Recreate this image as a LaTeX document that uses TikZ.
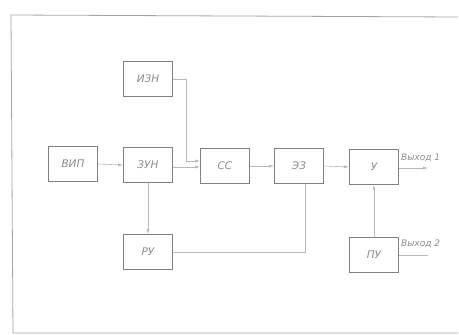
\documentclass[tikz,border=0pt]{standalone}
\usepackage{fontspec}
\setmainfont{DejaVu Sans}
\usetikzlibrary{arrows.meta}
\begin{document}
\begin{tikzpicture}[x=1pt,y=-1pt,
  blk/.style={draw=black!50,line width=0.8pt,minimum width=49pt,minimum height=35pt,inner sep=0pt,font=\itshape\fontsize{10.5}{12}\selectfont,text=black!45},
  con/.style={draw=black!28,line width=0.6pt},
  arr/.style={con,-{Latex[length=5pt,width=3pt]}},
  lbl/.style={font=\itshape\fontsize{9}{10}\selectfont,text=black!45,inner sep=0pt}]
\useasboundingbox (0,0) rectangle (459,335);
\fill[white] (0,0) rectangle (459,335);
% frame
\coordinate (f1) at (11,15);
\coordinate (f2) at (458,17);
\coordinate (f3) at (13,333);
\coordinate (f4) at (458,333);
\draw[black!35,line width=0.8pt] (f2) -- (f1) -- (f3) -- (f4);
% blocks
\node[blk] (izn) at (148,79) {ИЗН};
\node[blk] (vip) at (73,164) {ВИП};
\node[blk] (zun) at (148,165) {ЗУН};
\node[blk] (ss)  at (225,166) {СС};
\node[blk] (ez)  at (299,166) {ЭЗ};
\node[blk] (u)   at (374,167) {У};
\node[blk] (ru)  at (148,252) {РУ};
\node[blk] (pu)  at (374,255) {ПУ};
% auxiliary points
\coordinate (c1) at (186,79);
\coordinate (c2) at (186,161);
\coordinate (c3) at (305,252);
\coordinate (o1) at (428,168);
\coordinate (o2) at (428,255);
% connectors
\draw[arr] (vip.east) -- (zun.west);
\draw[arr] (zun.east |- 0,167) -- (ss.west |- 0,167);
\draw[arr] (izn.east) -- (c1) -- (c2) -- (ss.west |- c2);
\draw[arr] (ss.east) -- (ez.west);
\draw[arr] (ez.east) -- (u.west);
\draw[arr] (u.east |- o1) -- (o1);
\draw[arr] (zun.south) -- (ru.north);
\draw[arr] (pu.north) -- (u.south);
\draw[con] (ez.south -| c3) -- (c3) -- (ru.east);
\draw[con] (pu.east) -- (o2);
% labels
\node[lbl,anchor=south west] (l1) at (401,162) {Выход 1};
\node[lbl,anchor=south west] (l2) at (401,248) {Выход 2};
\end{tikzpicture}
\end{document}
